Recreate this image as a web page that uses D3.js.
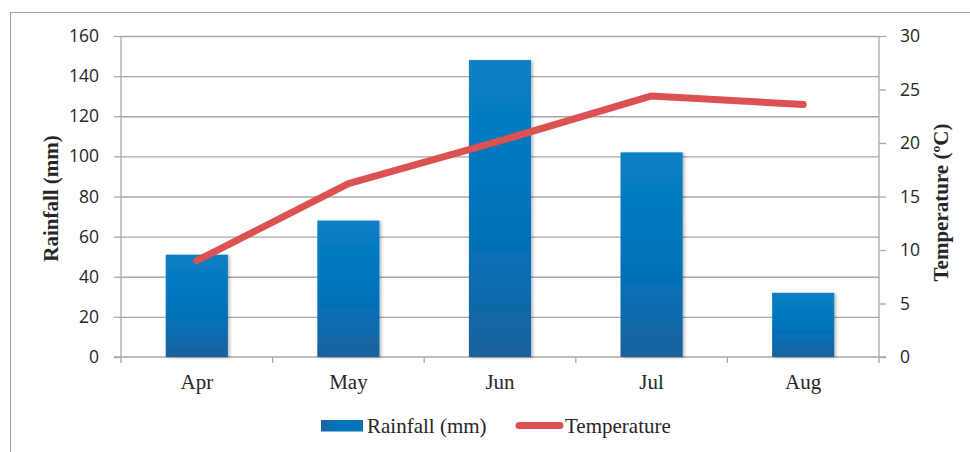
<!DOCTYPE html>
<html>
<head>
<meta charset="utf-8">
<script src="https://cdn.jsdelivr.net/npm/d3@7"></script>
<style>
  html, body { margin: 0; padding: 0; background: #fff; }
  svg { display: block; }
</style>
</head>
<body>
<svg id="chart" width="970" height="452"></svg>
<script>
// Monthly rainfall (bars, left axis) and mean temperature (line, right axis)
const months = ["Apr", "May", "Jun", "Jul", "Aug"];
const rainfall = [51, 68, 148, 102, 32];
const temperature = [9.0, 16.2, 20.2, 24.4, 23.6];
const rainTicks = [0, 20, 40, 60, 80, 100, 120, 140, 160];
const tempTicks = [0, 5, 10, 15, 20, 25, 30];

const W = 970, H = 452;
const plot = { left: 121, right: 879, top: 36, bottom: 357 };

const svg = d3.select("#chart");
const serif = "'Liberation Serif', 'Times New Roman', serif";
const sans = "'Open Sans', 'Liberation Sans', sans-serif";
const gridColor = "#a8a8a8";
const textColor = "#262626";

const x = d3.scaleBand().domain(months).range([plot.left, plot.right]).padding(0);
const yRain = d3.scaleLinear().domain([0, 160]).range([plot.bottom, plot.top]);
const yTemp = d3.scaleLinear().domain([0, 30]).range([plot.bottom, plot.top]);
const barW = x.step() * 0.41;

const defs = svg.append("defs");
const grad = defs.append("linearGradient").attr("id", "barFill")
  .attr("x1", 0).attr("y1", 0).attr("x2", 0).attr("y2", 1);
[["0%", "#0a80c4"], ["45%", "#0075bd"], ["75%", "#0a6cb0"], ["100%", "#1c609b"]]
  .forEach(([o, c]) => grad.append("stop").attr("offset", o).attr("stop-color", c));
const lgGrad = defs.append("linearGradient").attr("id", "legendFill")
  .attr("x1", 0).attr("y1", 0).attr("x2", 1).attr("y2", 0);
[["0%", "#1a65a3"], ["50%", "#0076be"], ["100%", "#0a72b6"]]
  .forEach(([o, c]) => lgGrad.append("stop").attr("offset", o).attr("stop-color", c));
const shadow = defs.append("filter").attr("id", "barShadow")
  .attr("x", "-10%").attr("y", "-10%").attr("width", "130%").attr("height", "120%");
shadow.append("feDropShadow").attr("dx", 2).attr("dy", 1).attr("stdDeviation", 1.5)
  .attr("flood-color", "#000").attr("flood-opacity", 0.25);

// Outer frame
svg.append("rect")
  .attr("x", 10.5).attr("y", 12.5).attr("width", W).attr("height", H)
  .attr("fill", "none").attr("stroke", "#a0a0a0").attr("stroke-width", 1);

// Horizontal gridlines
svg.append("g")
  .attr("transform", `translate(${plot.left},0)`)
  .call(d3.axisLeft(yRain).tickValues(rainTicks.slice(1)).tickSize(-(plot.right - plot.left)).tickFormat(""))
  .call(g => g.select(".domain").remove())
  .call(g => g.selectAll("line").attr("stroke", gridColor).attr("stroke-width", 1.3));

// Left axis
svg.append("g")
  .attr("transform", `translate(${plot.left},0)`)
  .call(d3.axisLeft(yRain).tickValues(rainTicks).tickSize(7).tickSizeOuter(0).tickPadding(15))
  .call(g => g.select(".domain").attr("d", `M0,${plot.bottom + 6}V${plot.top}`).attr("stroke", gridColor).attr("stroke-width", 1.3))
  .call(g => g.selectAll("line").attr("stroke", gridColor).attr("stroke-width", 1.3))
  .call(g => g.selectAll("text").attr("font-family", sans).attr("font-size", "17.5px").attr("fill", textColor));

// Right axis
svg.append("g")
  .attr("transform", `translate(${plot.right},0)`)
  .call(d3.axisRight(yTemp).tickValues(tempTicks).tickSize(7).tickSizeOuter(0).tickPadding(14))
  .call(g => g.select(".domain").attr("d", `M0,${plot.bottom + 6}V${plot.top}`).attr("stroke", gridColor).attr("stroke-width", 1.3))
  .call(g => g.selectAll("line").attr("stroke", gridColor).attr("stroke-width", 1.3))
  .call(g => g.selectAll("text").attr("font-family", sans).attr("font-size", "17.5px").attr("fill", textColor));

// Bottom axis: baseline, category boundary ticks, labels
const bottom = svg.append("g").attr("transform", `translate(0,${plot.bottom})`);
bottom.append("line")
  .attr("x1", plot.left - 7).attr("x2", plot.right + 7)
  .attr("stroke", gridColor).attr("stroke-width", 1.3);
bottom.selectAll("line.bound")
  .data(months.slice(1))
  .join("line").attr("class", "bound")
  .attr("x1", d => x(d)).attr("x2", d => x(d))
  .attr("y1", 0).attr("y2", 6)
  .attr("stroke", gridColor).attr("stroke-width", 1.3);
bottom.append("g")
  .call(d3.axisBottom(x).tickSize(0).tickPadding(0))
  .call(g => g.select(".domain").remove())
  .call(g => g.selectAll("text")
    .attr("dy", null).attr("y", 32)
    .attr("font-family", serif).attr("font-size", "21px").attr("fill", textColor));

// Rainfall bars
svg.append("g").selectAll("rect")
  .data(months.map((m, i) => ({ m, v: rainfall[i] })))
  .join("rect")
  .attr("x", d => x(d.m) + (x.step() - barW) / 2)
  .attr("width", barW)
  .attr("y", d => yRain(d.v))
  .attr("height", d => yRain(0) - yRain(d.v))
  .attr("fill", "url(#barFill)")
  .attr("filter", "url(#barShadow)");

// Temperature line
const lineColor = "#dc5252";
const line = d3.line()
  .x((d, i) => x(months[i]) + x.step() / 2)
  .y(d => yTemp(d));
svg.append("path")
  .datum(temperature)
  .attr("d", line)
  .attr("fill", "none")
  .attr("stroke", lineColor)
  .attr("stroke-width", 7)
  .attr("stroke-linecap", "round")
  .attr("stroke-linejoin", "round");

// Axis titles
svg.append("text")
  .attr("transform", `translate(58,${(plot.top + plot.bottom) / 2 + 2}) rotate(-90)`)
  .attr("text-anchor", "middle")
  .attr("font-family", serif).attr("font-weight", "bold").attr("font-size", "21px")
  .attr("fill", textColor)
  .text("Rainfall (mm)");
svg.append("text")
  .attr("transform", `translate(948,${(plot.top + plot.bottom) / 2 + 6}) rotate(-90)`)
  .attr("text-anchor", "middle")
  .attr("font-family", serif).attr("font-weight", "bold").attr("font-size", "21px")
  .attr("fill", textColor)
  .text("Temperature (ºC)");

// Legend
const legend = svg.append("g");
legend.append("rect")
  .attr("x", 321).attr("y", 420).attr("width", 42).attr("height", 11.5)
  .attr("fill", "url(#legendFill)");
legend.append("text")
  .attr("x", 367).attr("y", 433)
  .attr("font-family", serif).attr("font-size", "21px").attr("fill", textColor)
  .text("Rainfall (mm)");
legend.append("line")
  .attr("x1", 519).attr("x2", 560).attr("y1", 425.5).attr("y2", 425.5)
  .attr("stroke", lineColor).attr("stroke-width", 7).attr("stroke-linecap", "round");
legend.append("text")
  .attr("x", 565).attr("y", 433)
  .attr("font-family", serif).attr("font-size", "21px").attr("fill", textColor)
  .text("Temperature");
</script>
</body>
</html>
